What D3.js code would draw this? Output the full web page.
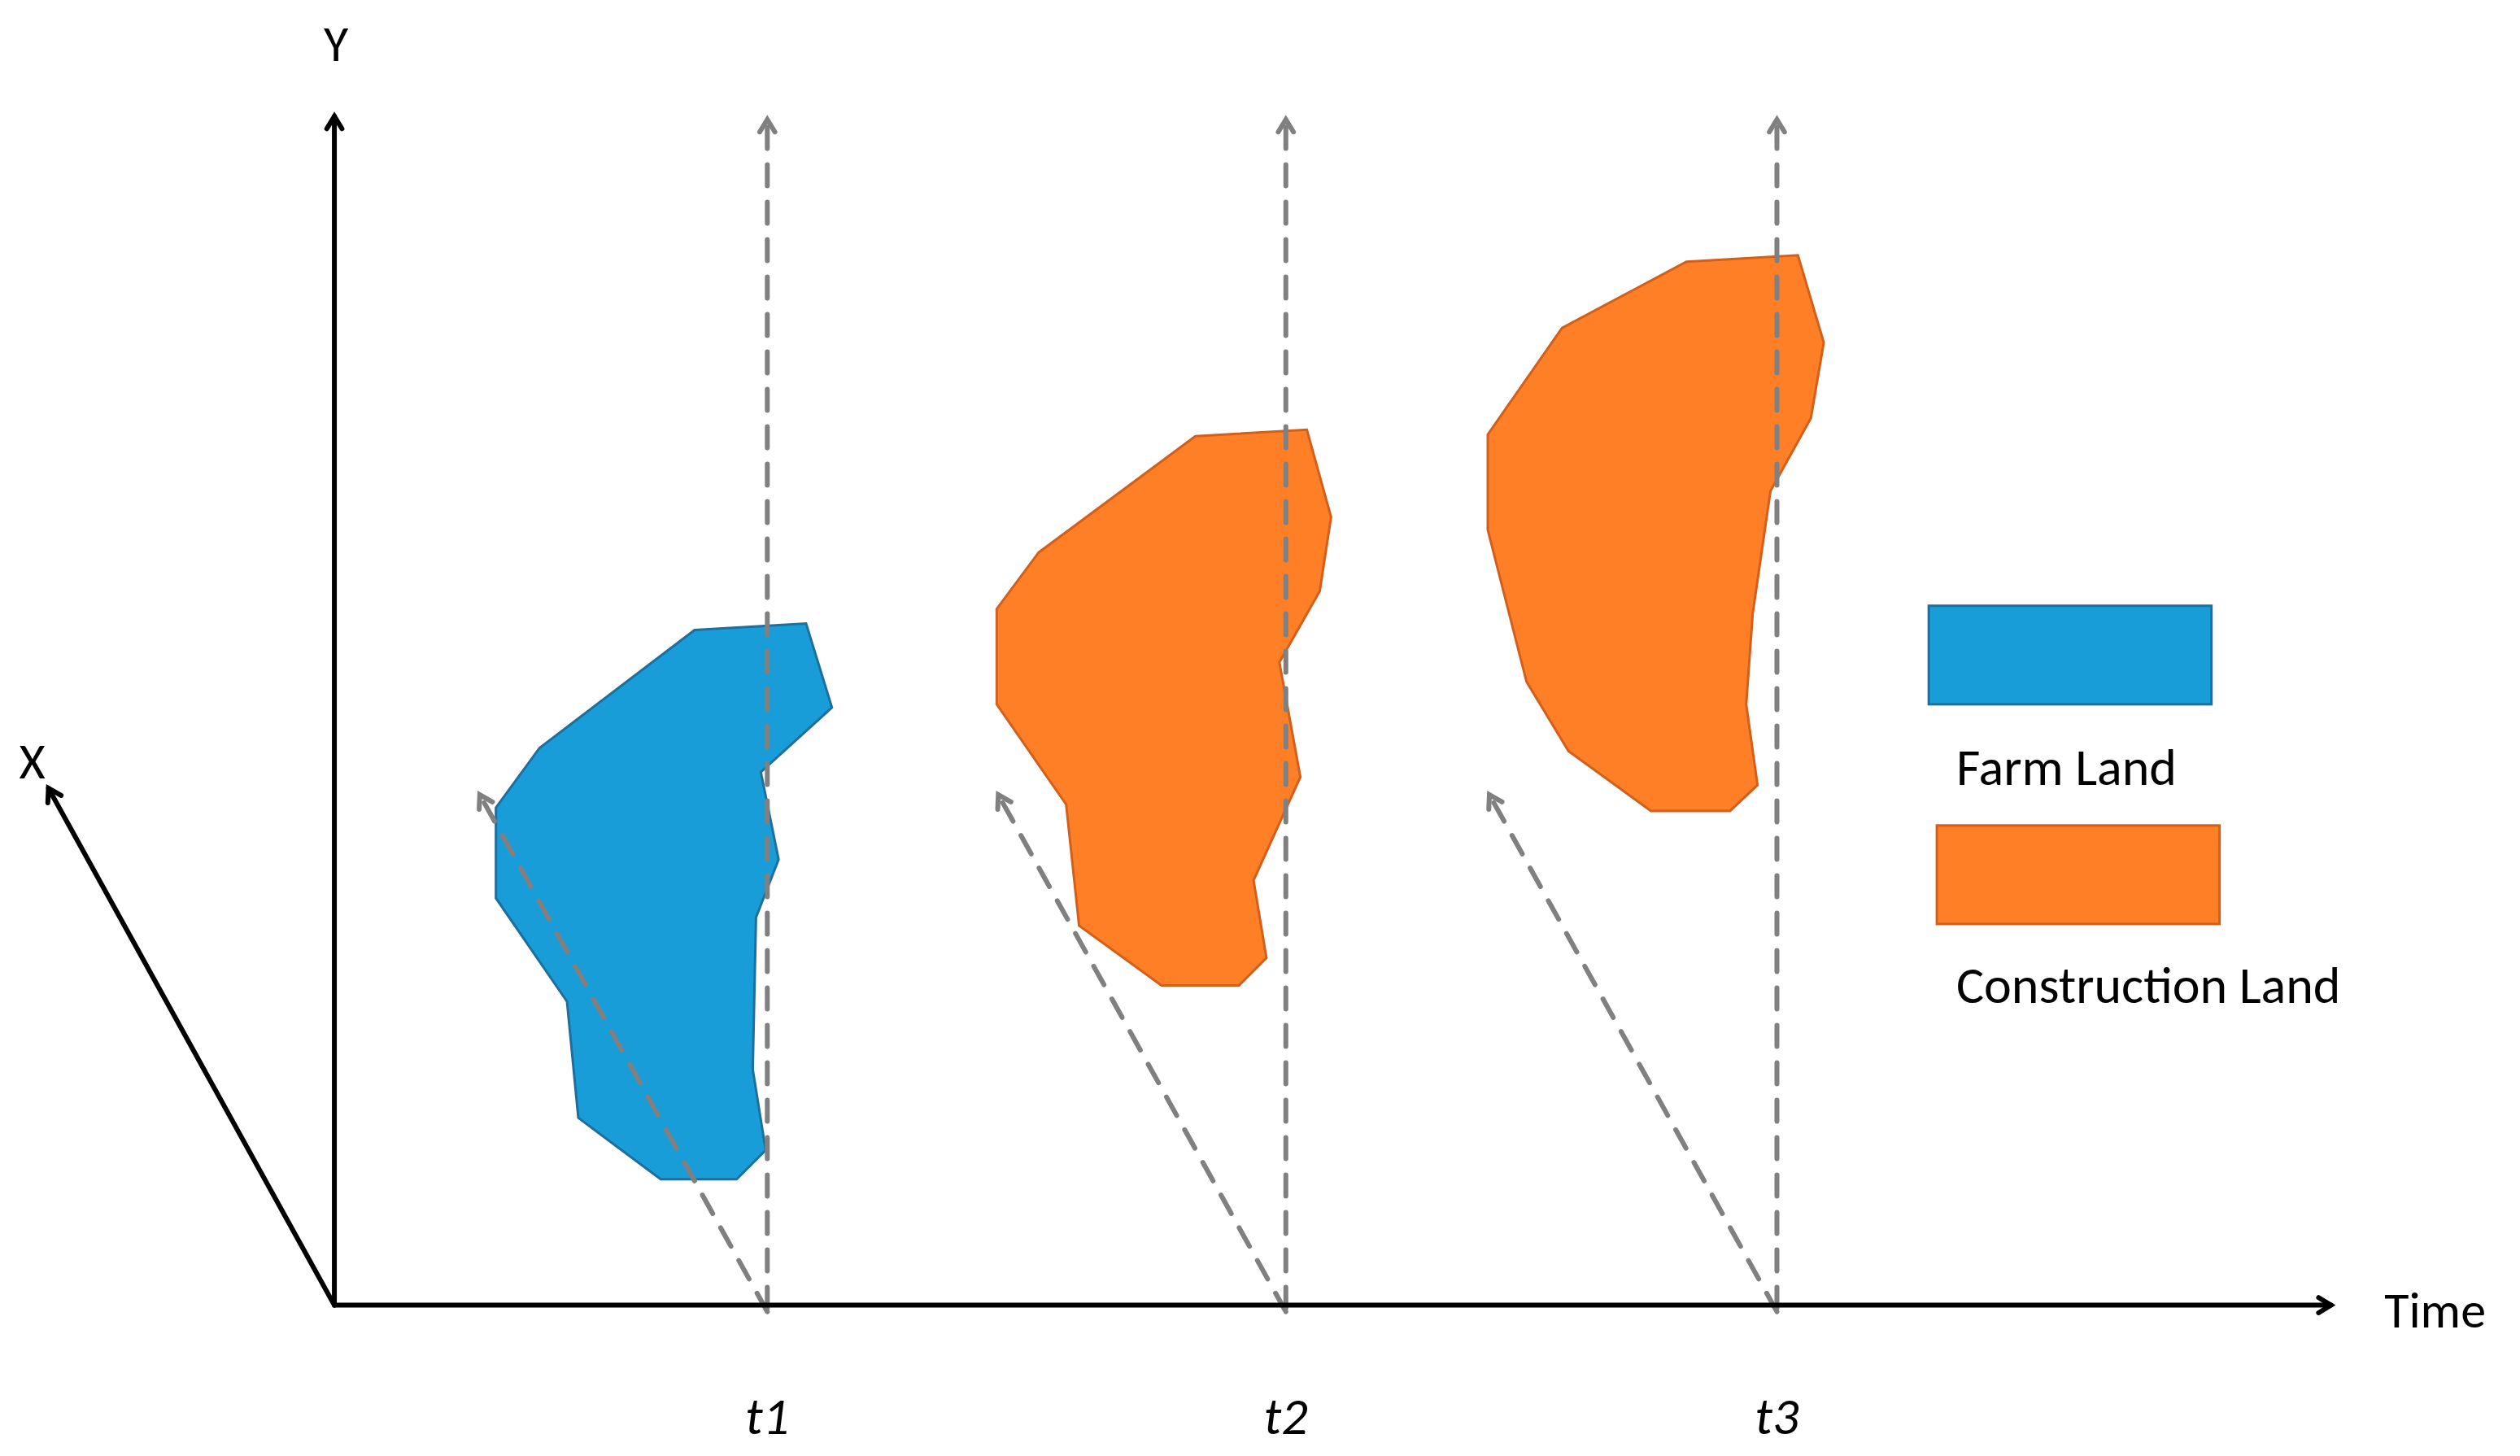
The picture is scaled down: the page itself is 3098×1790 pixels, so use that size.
<!DOCTYPE html>
<html><head><meta charset="utf-8">
<script src="https://cdn.jsdelivr.net/npm/d3@7"></script>
<style>body{margin:0;background:#fff}svg{display:block}text{font-family:Calibri,Carlito,"Open Sans",sans-serif}</style>
</head><body>
<svg id="c" width="3098" height="1790"></svg>
<script>
// shapes (reference units, 1560 x 901)
var farmLand = [[430,390],[499,386],[515,438],[471,478],[482,532],[468,568],[466,662],[474,712],[456,730],[409,730],[358,692],[351,620],[307,556],[307,500],[334,463]];
var construction1 = [[740,270],[809,266],[824,320],[817,366],[792,410],[805,481],[776,545],[784,593],[767,610],[719,610],[668,573],[660,498],[617,436],[617,377],[643,342]];
var construction2 = [[1044,162],[1113,158],[1129,212],[1121,259],[1096,304],[1085,380],[1081,436],[1088,486],[1071,502],[1022,502],[971,465],[945,422],[921,328],[921,269],[967,203]];
var timeLabels = ["t1", "t2", "t3"];
var timeX = [475, 796, 1100];
var legendNames = ["Farm Land", "Construction Land"];
var legendColors = ["#189dd8", "#fe7f26"];
var legendStroke = ["#1f6f9c", "#d2601c"];

var k = 3098 / 1560;
var sx = d3.scaleLinear().domain([0, 1560]).range([0, 3098]);
var sy = d3.scaleLinear().domain([0, 1790 / k]).range([0, 1790]);
var svg = d3.select("#c");

function arrow(x1, y1, x2, y2, color, w, dash) {
  var g = svg.append("g").attr("stroke", color).attr("fill", "none")
    .attr("stroke-width", w).attr("stroke-linecap", "round");
  g.append("line").attr("x1", sx(x1)).attr("y1", sy(y1)).attr("x2", sx(x2)).attr("y2", sy(y2))
    .attr("stroke-dasharray", dash || null);
  var a = Math.atan2(y2 - y1, x2 - x1), L = 9, s = 0.55;
  g.append("path").attr("stroke-linejoin", "miter").attr("d",
    "M" + sx(x2 - L * Math.cos(a - s)) + "," + sy(y2 - L * Math.sin(a - s)) +
    "L" + sx(x2) + "," + sy(y2) +
    "L" + sx(x2 - L * Math.cos(a + s)) + "," + sy(y2 - L * Math.sin(a + s)));
}

var line = d3.line().x(function(d){return sx(d[0]);}).y(function(d){return sy(d[1]);}).curve(d3.curveLinearClosed);
[[farmLand, 0], [construction1, 1], [construction2, 1]].forEach(function(p) {
  svg.append("path").attr("d", line(p[0])).attr("fill", legendColors[p[1]])
    .attr("stroke", legendStroke[p[1]]).attr("stroke-width", 3);
});

// dashed guides
timeX.forEach(function(x) {
  arrow(x, 810, x, 74, "#808080", 6, "26,20");
  arrow(x, 812, x - 178, 492, "#808080", 6, "26,20");
});

// axes
arrow(207, 808, 207, 72, "#000", 6);
arrow(207, 808, 1443, 808, "#000", 6);
arrow(207, 808, 30, 488, "#000", 6);

svg.append("text").attr("x", sx(208)).attr("y", sy(38)).attr("text-anchor", "middle").attr("font-size", 62).text("Y");
svg.append("text").attr("x", sx(20)).attr("y", sy(482)).attr("text-anchor", "middle").attr("font-size", 62).text("X");
svg.append("text").attr("x", sx(1476)).attr("y", sy(822)).attr("font-size", 62).text("Time");

svg.selectAll(".t").data(timeLabels).enter().append("text")
  .attr("x", function(d, i){return sx(timeX[i]);}).attr("y", sy(888))
  .attr("text-anchor", "middle").attr("font-size", 64).attr("font-style", "italic").text(function(d){return d;});

// legend
var lg = [[1194, 375], [1199, 511]];
legendNames.forEach(function(n, i) {
  svg.append("rect").attr("x", sx(lg[i][0])).attr("y", sy(lg[i][1])).attr("width", sx(175)).attr("height", sy(61))
    .attr("fill", legendColors[i]).attr("stroke", legendStroke[i]).attr("stroke-width", 3);
  svg.append("text").attr("x", sx(1211)).attr("y", sy(lg[i][1] + 111 - i * 1)).attr("font-size", 64).text(n);
});
</script>
</body></html>
